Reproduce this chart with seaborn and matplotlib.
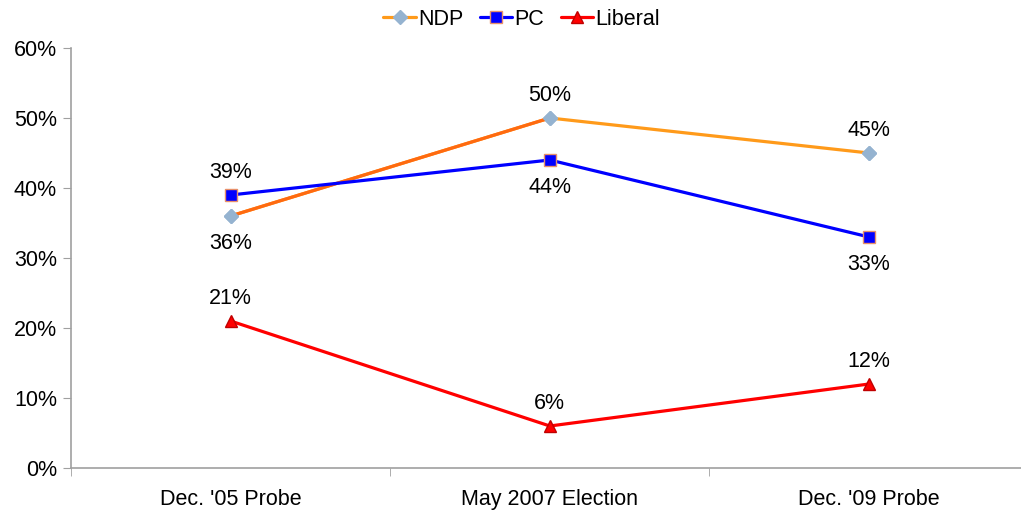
import pandas as pd
import seaborn as sns
import matplotlib.pyplot as plt

categories = ["Dec. '05 Probe", "May 2007 Election", "Dec. '09 Probe"]
ndp = [36, 50, 45]
pc = [39, 44, 33]
liberal = [21, 6, 12]

sns.set_style("white")
plt.rcParams['font.family'] = ['Liberation Sans', 'DejaVu Sans']
plt.rcParams['text.color'] = 'black'
plt.rcParams['xtick.color'] = 'black'
plt.rcParams['ytick.color'] = 'black'
FS = 15.5

fig = plt.figure(figsize=(10.21, 5.14), dpi=100)
ax = fig.add_axes([0.0695, 0.0895, 0.938, 0.8171])

x = list(range(len(categories)))
df = pd.DataFrame({'x': x, 'NDP': ndp, 'PC': pc, 'Liberal': liberal})

series = {
    'NDP': dict(color='#FF9A1A', marker='D', ms=7, mfc='#95B3D0', mec='#95B3D0',
                labels_above=[False, True, True], z=2),
    'PC': dict(color='#0000FF', marker='s', ms=8, mfc='#0000FF', mec='#E8906A',
               labels_above=[True, False, False], z=3),
    'Liberal': dict(color='#FF0000', marker='^', ms=8, mfc='#FF0000', mec='#C00000',
                    labels_above=[True, True, True], z=3),
}

for name, s in series.items():
    sns.lineplot(data=df, x='x', y=name, ax=ax, color=s['color'], lw=2.3,
                 marker=s['marker'], markersize=s['ms'], markerfacecolor=s['mfc'],
                 markeredgecolor=s['mec'], markeredgewidth=1, label=name,
                 zorder=s['z'])
    for xi, v, up in zip(x, df[name], s['labels_above']):
        ax.annotate(f'{v}%', (xi, v), xytext=(0, 16 if up else -20),
                    textcoords='offset points', ha='center', va='center',
                    fontsize=FS)

# first NDP segment is drawn in a darker orange in the original
s = series['NDP']
ax.plot(df['x'][:2], df['NDP'][:2], color='#FF6A10', lw=2.3, zorder=2.5)
ax.plot(df['x'], df['NDP'], ls='none', marker=s['marker'], ms=s['ms'],
        mfc=s['mfc'], mec=s['mec'], mew=1, zorder=2.6)

ax.set_xlim(-0.5, 2.5)
ax.set_ylim(0, 60)
ax.set_yticks(range(0, 61, 10))
ax.set_yticklabels([f'{t}%' for t in range(0, 61, 10)], fontsize=FS)
ax.set_xticks(x)
ax.set_xticklabels(categories, fontsize=FS)
ax.set_xticks([-0.5, 0.5, 1.5], minor=True)
ax.tick_params(axis='x', which='major', length=0, pad=15)
ax.tick_params(axis='x', which='minor', length=6, color='#A0A0A0', direction='out', bottom=True)
ax.tick_params(axis='y', length=6, color='#A0A0A0', direction='out', left=True, pad=4)
ax.set_xlabel('')
ax.set_ylabel('')
for sp in ['top', 'right']:
    ax.spines[sp].set_visible(False)
for sp in ['left', 'bottom']:
    ax.spines[sp].set_color('#A0A0A0')
    ax.spines[sp].set_linewidth(1.2)

leg = ax.legend(loc='center', bbox_to_anchor=(0.511, 0.963),
                bbox_transform=fig.transFigure, ncol=3, frameon=False,
                fontsize=FS, handlelength=1.5, handletextpad=0.12,
                columnspacing=0.75)

fig.savefig('out.png', dpi=100)
